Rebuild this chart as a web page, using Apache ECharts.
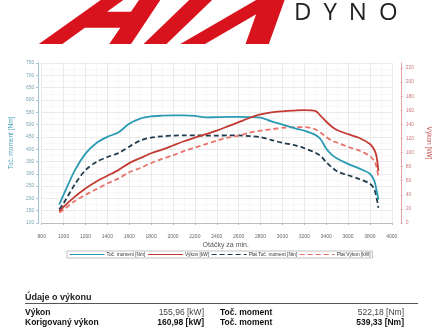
<!DOCTYPE html>
<html><head><meta charset="utf-8">
<script src="https://cdn.jsdelivr.net/npm/echarts@6/dist/echarts.min.js"></script>
<style>html,body{margin:0;padding:0;background:#fff}#c{width:440px;height:330px}</style>
</head><body><div id="c"></div>
<script>
// ---- data ----
const rpm =        [960,1000,1100,1200,1300,1400,1500,1600,1700,1800,1900,2000,2100,2200,2300,2400,2500,2600,2700,2800,2900,3000,3100,3200,3300,3350,3400,3450,3500,3600,3700,3800,3840,3860,3878];
const torque =     [175,215,312,382,425,450,468,503,524,533,536,537,537,535,529,530,531,531,530,528,513,500,486,475,458,440,403,378,362,340,322,300,272,235,195];
const power =      [17,23,37,49,59,67,75,85,92,99,104,110,116,121,126,131,137,143,149,154,157,158.5,159.5,160,159,152,144,137,132,126,121,112,104,95,74];
const platTorque = [155,180,255,315,348,368,384,410,435,447,452,455,456,456,455,455,456,456,453,449,437,426,417,404,386,372,348,327,310,294,279,260,238,205,162];
const platPower =  [15,19,31,40,48,56,63,72,78,85,91,96,102,107,112,117,121,124,128,131,133,135,136,136,133,128,122,117,114,108,103,95,88,80,65];
const seriesNames = ['Toč. moment [Nm]','Výkon [kW]','Plat Toč. moment [Nm]','Plat Výkon [kW]'];
const xTitle = 'Otáčky za min.';
const leftTitle = 'Toč. moment [Nm]';
const rightTitle = 'Výkon [kW]';
const sectionTitle = 'Údaje o výkonu';
const rowLabels = ['Výkon','Korigovaný výkon'];
const powerValues = ['155,96 [kW]','160,98 [kW]'];
const torqueLabel = 'Toč. moment';
const torqueValues = ['522,18 [Nm]','539,33 [Nm]'];

const pair = arr => rpm.map((r,i)=>[r, arr[i]]);
const chart = echarts.init(document.getElementById('c'), null, {renderer:'canvas'});
const F = 'Liberation Sans, Arial, sans-serif';

const summaryGraphics = [];
summaryGraphics.push({type:'text', left:25, top:293, style:{text:sectionTitle, fontFamily:F, fontSize:9, fontWeight:'bold', fill:'#222'}});
summaryGraphics.push({type:'line', shape:{x1:25,y1:303.5,x2:418,y2:303.5}, style:{stroke:'#555', lineWidth:1.2}});
rowLabels.forEach((lab,i)=>{
  const y = 308.5 + i*9.6;
  const bold = i===1;
  summaryGraphics.push({type:'text', x:25, y:y, style:{text:lab, fontFamily:F, fontSize:8.5, fontWeight:'bold', fill:'#111'}});
  summaryGraphics.push({type:'text', x:204, y:y, style:{text:powerValues[i], fontFamily:F, fontSize:8.5, fontWeight:bold?'bold':'normal', fill:bold?'#111':'#444', align:'right', textAlign:'right'}});
  summaryGraphics.push({type:'text', x:220, y:y, style:{text:torqueLabel, fontFamily:F, fontSize:8.5, fontWeight:'bold', fill:'#111'}});
  summaryGraphics.push({type:'text', x:404, y:y, style:{text:torqueValues[i], fontFamily:F, fontSize:8.5, fontWeight:bold?'bold':'normal', fill:bold?'#111':'#444', align:'right', textAlign:'right'}});
});

const option = {
  animation:false,
  backgroundColor:'#fff',
  grid:{left:41.7, right:47.7, top:63, bottom:107},
  legend:{
    left:67, top:251, itemWidth:35, itemHeight:4, itemGap:2, padding:[1,2],
    borderColor:'#999', borderWidth:0.6,
    textStyle:{fontSize:4.8, color:'#333', fontFamily:F, padding:[0,0,0,-3]},
    lineStyle:{width:1},
    itemStyle:{color:'transparent', borderWidth:0, opacity:0}
  },
  graphic:[
    {type:'text', x:22, y:73, skewX:-0.7, style:{text:'AIX', fontFamily:'DejaVu Sans', fontSize:122, fontWeight:'bold', fontStyle:'italic', verticalAlign:'bottom', fill:'#d9131d'}},
    {type:'text', x:294, y:1, style:{text:'D\u2002Y\u2002N\u2002O', fontFamily:'Open Sans', fontSize:24, fill:'#222'}},
    ...summaryGraphics
  ],
  xAxis:{
    type:'value', min:800, max:4000, interval:200, offset:7,
    name:xTitle, nameLocation:'middle', nameGap:12,
    nameTextStyle:{fontSize:7, color:'#555', fontFamily:F, padding:[0,0,0,18]},
    axisLine:{lineStyle:{color:'#bbb'}},
    axisTick:{show:true, length:2, lineStyle:{color:'#bbb'}},
    axisLabel:{fontSize:5, color:'#666', margin:4, fontFamily:F, formatter:v=>String(v)},
    splitLine:{show:true, lineStyle:{color:'#e4e4e4', width:0.8}},
    minorTick:{show:false, splitNumber:2},
    minorSplitLine:{show:true, lineStyle:{color:'#f1f1f1', width:0.6}}
  },
  yAxis:[
    {type:'value', min:100, max:750, interval:50, offset:3.5, position:'left',
     name:leftTitle, nameLocation:'middle', nameGap:13,
     nameTextStyle:{fontSize:6.5, color:'#4aa0b8', fontFamily:F},
     axisLine:{show:true, lineStyle:{color:'#9cc3cf'}},
     axisTick:{show:true, length:2, lineStyle:{color:'#9cc3cf'}},
     axisLabel:{fontSize:5, color:'#7aa6b5', margin:4, fontFamily:F, formatter:v=>String(v)},
     splitLine:{show:true, lineStyle:{color:'#e4e4e4', width:0.8}},
     minorSplitLine:{show:true, lineStyle:{color:'#f1f1f1', width:0.6}},
     minorTick:{splitNumber:2}
    },
    {type:'value', min:0, max:227, interval:20, offset:9, position:'right',
     name:rightTitle, nameLocation:'middle', nameGap:15, nameRotate:-90,
     nameTextStyle:{fontSize:6.5, color:'#c0504d', fontFamily:F},
     axisLine:{show:true, lineStyle:{color:'#e3a3a3'}},
     axisTick:{show:true, length:2, lineStyle:{color:'#e3a3a3'}},
     axisLabel:{fontSize:5, color:'#c97a7a', margin:5, fontFamily:F, showMaxLabel:false},
     splitLine:{show:false}
    }
  ],
  series:[
    {name:seriesNames[0], type:'line', yAxisIndex:0, data:pair(torque), smooth:0.3, symbol:'none', z:3,
     lineStyle:{color:'#2b9bb3', width:1.8}, itemStyle:{color:'#2b9bb3'}},
    {name:seriesNames[1], type:'line', yAxisIndex:1, data:pair(power), smooth:0.3, symbol:'none', z:3,
     lineStyle:{color:'#c23b33', width:1.8}, itemStyle:{color:'#c23b33'}},
    {name:seriesNames[2], type:'line', yAxisIndex:0, data:pair(platTorque), smooth:0.3, symbol:'none', z:2,
     lineStyle:{color:'#1f3b4d', width:1.8, type:[5,3]}, itemStyle:{color:'#1f3b4d'}},
    {name:seriesNames[3], type:'line', yAxisIndex:1, data:pair(platPower), smooth:0.3, symbol:'none', z:2,
     lineStyle:{color:'#e8736a', width:1.8, type:[5,3]}, itemStyle:{color:'#e8736a'}}
  ]
};
chart.setOption(option);
</script>
</body></html>
